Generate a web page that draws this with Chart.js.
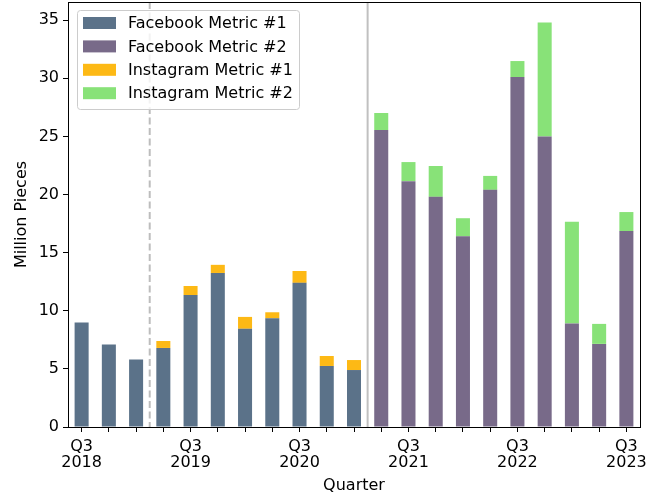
<!DOCTYPE html>
<html><head><meta charset="utf-8">
<script src="https://cdn.jsdelivr.net/npm/chart.js@4"></script>
<style>html,body{margin:0;padding:0;background:#fff;}canvas{display:block;}</style>
</head><body>
<canvas id="c" width="646" height="498"></canvas>
<script>
const categories = ["Q3 2018","Q4 2018","Q1 2019","Q2 2019","Q3 2019","Q4 2019","Q1 2020","Q2 2020","Q3 2020","Q4 2020","Q1 2021","Q2 2021","Q3 2021","Q4 2021","Q1 2022","Q2 2022","Q3 2022","Q4 2022","Q1 2023","Q2 2023","Q3 2023"];
const fbMetric1 = [9.0,7.1,5.8,6.8,11.35,13.25,8.45,9.35,12.4,5.25,4.9,null,null,null,null,null,null,null,null,null,null];
const fbMetric2 = [null,null,null,null,null,null,null,null,null,null,null,25.55,21.15,19.8,16.4,20.4,30.1,25.0,8.9,7.15,16.85];
const igMetric1 = [null,null,null,0.6,0.78,0.7,1.02,0.52,1.02,0.86,0.86,null,null,null,null,null,null,null,null,null,null];
const igMetric2 = [null,null,null,null,null,null,null,null,null,null,null,1.46,1.64,2.65,1.56,1.2,1.38,9.8,8.76,1.72,1.64];
const tickLabelIdx = [0,4,8,12,16,20];
const yMax = 36.56;
const yStep = 5;
const dashedLineAfter = 2;   // between index 2 and 3
const solidLineAfter = 10;   // between index 10 and 11

const colors = {fb1:'#5b7289', fb2:'#786a89', ig1:'#fdb915', ig2:'#88e278'};
const FONT = 'DejaVu Sans';
const FS = 16;

const boxPlugin = {
  id:'box',
  beforeDatasetsDraw(chart){
    const {ctx, chartArea:a, scales:{x}} = chart;
    const mid = i => (x.getPixelForValue(i) + x.getPixelForValue(i+1))/2;
    ctx.save();
    ctx.strokeStyle = '#bdbdbd';
    ctx.lineWidth = 2;
    ctx.setLineDash([7,3.5]);
    let px = mid(dashedLineAfter);
    ctx.beginPath(); ctx.moveTo(px,a.top); ctx.lineTo(px,a.bottom); ctx.stroke();
    ctx.setLineDash([]);
    px = mid(solidLineAfter);
    ctx.strokeStyle = '#c0c0c0';
    ctx.beginPath(); ctx.moveTo(px,a.top); ctx.lineTo(px,a.bottom); ctx.stroke();
    ctx.restore();
  },
  afterDraw(chart){
    const {ctx, chartArea:a} = chart;
    ctx.save();
    ctx.strokeStyle = '#000';
    ctx.lineWidth = 1;
    ctx.strokeRect(Math.round(a.left)+0.5, Math.round(a.top)+0.5, Math.round(a.right-a.left), Math.round(a.bottom-a.top));
    // legend
    const lx = 77, ly = 10, lw = 222, lh = 99;
    ctx.fillStyle = 'rgba(255,255,255,0.8)';
    ctx.strokeStyle = '#cccccc';
    ctx.lineWidth = 1;
    ctx.beginPath();
    ctx.roundRect(lx+0.5, ly+0.5, lw, lh, 3);
    ctx.fill(); ctx.stroke();
    ctx.font = FS + 'px "' + FONT + '"';
    ctx.textBaseline = 'middle';
    chart.data.datasets.forEach((ds,i)=>{
      const cy = 23 + i*23.4;
      ctx.fillStyle = ds.backgroundColor;
      ctx.fillRect(83, cy-6, 33, 12);
      ctx.fillStyle = '#000';
      ctx.fillText(ds.label, 128, cy+1);
    });
    ctx.restore();
  }
};

new Chart(document.getElementById('c'), {
  type:'bar',
  data:{
    labels: categories,
    datasets:[
      {label:'Facebook Metric #1', data:fbMetric1, backgroundColor:colors.fb1},
      {label:'Facebook Metric #2', data:fbMetric2, backgroundColor:colors.fb2},
      {label:'Instagram Metric #1', data:igMetric1, backgroundColor:colors.ig1},
      {label:'Instagram Metric #2', data:igMetric2, backgroundColor:colors.ig2}
    ]
  },
  options:{
    responsive:false,
    animation:false,
    devicePixelRatio:1,
    layout:{padding:{top:2,right:6,left:0,bottom:0}},
    datasets:{bar:{categoryPercentage:1.0, barPercentage:0.515, borderWidth:0}},
    plugins:{legend:{display:false}, tooltip:{enabled:false}},
    scales:{
      x:{
        stacked:true,
        offset:true,
        grid:{display:true, drawOnChartArea:false, drawTicks:true, tickLength:5, tickColor:'#000', offset:false},
        border:{display:true, color:'#000'},
        ticks:{
          autoSkip:false, maxRotation:0, color:'#000', padding:7,
          font:{family:FONT, size:FS, lineHeight:1.0},
          callback:(v,i)=> tickLabelIdx.includes(i) ? categories[i].split(' ') : ''
        },
        title:{display:true, text:'Quarter', color:'#000', font:{family:FONT, size:FS}, padding:{top:0,bottom:3}},
        afterFit(s){ s.height = 71; s.paddingLeft = 0; s.paddingRight = 0; }
      },
      y:{
        stacked:true,
        min:0, max:yMax,
        grid:{display:true, drawOnChartArea:false, drawTicks:true, tickLength:5, tickColor:'#000'},
        border:{display:true, color:'#000'},
        ticks:{stepSize:yStep, includeBounds:false, color:'#000', padding:4, font:{family:FONT, size:FS}},
        title:{display:true, text:'Million Pieces', color:'#000', font:{family:FONT, size:FS}, padding:{top:12,bottom:0}},
        afterFit(s){ s.width = 68; s.paddingTop = 0; s.paddingBottom = 0; }
      }
    }
  },
  plugins:[boxPlugin]
});
</script>
</body></html>
